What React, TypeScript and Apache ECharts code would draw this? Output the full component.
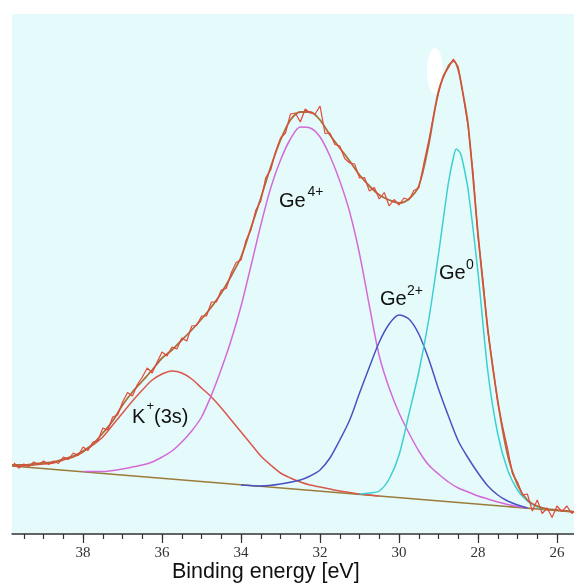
import React, { useEffect, useRef } from "react";
import * as echarts from "echarts";

// Binding energy [eV] vs intensity (arb. units)
const baseline = [[39.8, 68], [25.57, 22]];

const kPeak = [[39.8,68],[39.5,68],[39.25,69],[39.0,70],[38.75,71],[38.5,74],[38.25,77],[38.0,82],[37.75,89],[37.5,97],[37.25,109],[37.0,121],[36.75,133],[36.5,144],[36.25,154],[36.0,160],[35.75,163],[35.5,161],[35.25,155],[35.0,146],[34.75,137],[34.5,126],[34.25,114],[34.0,102],[33.75,90],[33.5,78],[33.25,69],[33.0,61],[32.75,56],[32.5,52],[32.25,49],[32.0,47],[31.75,45],[31.5,43],[31.25,41.5],[31.0,40],[30.75,39],[30.5,38]];

const ge4Peak = [[38.0,62.5],[37.5,62.5],[37.0,65],[36.75,67],[36.5,69],[36.25,72],[36.0,77],[35.75,83],[35.5,92],[35.25,103],[35.0,117],[34.75,139],[34.5,165],[34.25,194],[34.0,228],[33.75,268],[33.5,309],[33.25,346],[33.0,374],[32.75,395],[32.5,407],[32.25,406],[32.0,397],[31.75,378],[31.5,353],[31.25,322],[31.0,280],[30.75,228],[30.5,178],[30.25,146],[30.0,121],[29.75,101],[29.5,83],[29.25,69],[29.0,60],[28.75,52],[28.5,46],[28.25,42],[28.0,38],[27.75,35],[27.5,32],[27.25,29.5],[27.0,27.5],[26.75,26]];

const ge2Peak = [[34.0,49],[33.5,48],[33.0,50],[32.5,54],[32.25,58],[32.0,64],[31.75,76],[31.5,94],[31.25,114],[31.0,141],[30.75,167],[30.5,192],[30.25,210],[30.0,219],[29.75,215],[29.5,200],[29.25,175],[29.0,145],[28.75,118],[28.5,93],[28.25,76],[28.0,61],[27.75,48],[27.5,39],[27.25,33],[27.0,29],[26.75,26]];

const ge0Peak = [[31.0,40],[30.75,41],[30.5,43],[30.25,55],[30.0,79],[29.75,120],[29.5,162],[29.25,214],[29.0,280],[28.75,351],[28.62,377],[28.55,385],[28.45,381],[28.38,371],[28.25,344],[28.0,261],[27.75,162],[27.5,100],[27.25,64],[27.0,44],[26.75,33],[26.5,27],[26.25,24.5]];

const envelope = [[39.8,69],[39.5,69],[39.25,70],[39.0,71],[38.75,72],[38.5,75],[38.25,78],[38.0,83],[37.75,90],[37.5,101],[37.25,113],[37.0,129],[36.75,142],[36.5,153],[36.25,164],[36.0,176],[35.75,184],[35.5,194],[35.25,204],[35.0,215],[34.75,227],[34.5,241],[34.25,258],[34.0,277],[33.75,306],[33.5,336],[33.25,367],[33.0,394],[32.75,414],[32.5,422],[32.25,422],[32.0,414],[31.75,399],[31.5,386],[31.25,373],[31.0,359],[30.75,348],[30.5,339],[30.25,334],[30.0,331],[29.75,335],[29.5,348],[29.25,389],[29.0,443],[28.75,468],[28.62,473],[28.5,464],[28.38,440],[28.25,409],[28.0,300],[27.75,204],[27.5,133],[27.25,79],[27.0,49],[26.75,34],[26.5,28],[26.25,25],[26.0,24],[25.75,23],[25.57,22]];

const spectrum = [[39.75,71],[39.625,66],[39.5,70],[39.375,67.5],[39.25,72],[39.125,69.5],[39.0,73],[38.875,69.5],[38.75,73],[38.625,70.5],[38.5,77],[38.375,74.5],[38.25,81],[38.125,78.5],[38.0,87],[37.875,83.5],[37.75,92],[37.625,93.5],[37.5,106],[37.375,104],[37.25,117],[37.125,119],[37.0,132],[36.875,141.5],[36.75,138],[36.625,149.5],[36.5,157],[36.375,166],[36.25,161],[36.125,172],[36.0,182],[35.875,178],[35.75,187],[35.625,185],[35.5,196],[35.375,193],[35.25,208],[35.125,208.5],[35.0,218],[34.875,218],[34.75,232],[34.625,232],[34.5,244],[34.375,245.5],[34.25,261],[34.125,271.5],[34.0,274],[33.875,293.5],[33.75,304],[33.625,324],[33.5,333],[33.375,356.5],[33.25,364],[33.125,382.5],[33.0,396],[32.875,401],[32.75,420],[32.625,421],[32.5,412],[32.375,425],[32.25,421],[32.125,420],[32.0,428],[31.875,400.5],[31.75,401],[31.625,389.5],[31.5,388],[31.375,375.5],[31.25,371],[31.125,370],[31.0,356],[30.875,356.5],[30.75,343],[30.625,346.5],[30.5,335],[30.375,341.5],[30.25,328],[30.125,334.5],[30.0,329],[29.875,336],[29.75,334],[29.625,343.5],[29.5,346],[29.375,370],[29.25,393],[29.125,419],[29.0,441],[28.875,459],[28.75,466],[28.625,475],[28.5,467],[28.375,439],[28.25,407],[28.125,361],[28.0,297],[27.875,254],[27.75,202],[27.625,168],[27.5,131],[27.375,107],[27.25,85],[27.125,60],[27.0,52],[26.875,39],[26.75,40],[26.625,23],[26.5,34],[26.375,20.5],[26.25,26],[26.125,16.5],[26.0,28],[25.875,22.5],[25.75,28],[25.625,20.5],[25.57,23]];

const majorTicks = [26, 28, 30, 32, 34, 36, 38];
const minorTicks = [26, 26.5, 27, 27.5, 28, 28.5, 29, 29.5, 30, 30.5, 31, 31.5, 32, 32.5, 33, 33.5, 34, 34.5, 35, 35.5, 36, 36.5, 37, 37.5, 38, 38.5, 39, 39.5];

const SANS = "'Liberation Sans', Arial, Helvetica, sans-serif";

export default function App() {
  const ref = useRef<HTMLDivElement>(null);
  useEffect(() => {
    const chart = echarts.init(ref.current!, null, { renderer: "svg" });
    const line = (name: string, data: number[][], color: string, width: number, z: number, smooth: any) => ({
      type: "line",
      name,
      data,
      showSymbol: false,
      smooth,
      silent: true,
      z,
      lineStyle: { color, width },
      itemStyle: { color },
    });
    const txt = (text: string, x: number, y: number, size: number) => ({
      type: "text",
      x,
      y,
      z: 10,
      style: { text, fontSize: size, fontFamily: SANS, fill: "#111", align: "left", verticalAlign: "middle" },
    });
    chart.setOption({
      animation: false,
      grid: { left: 12, right: 0, top: 14, bottom: 49, show: true, backgroundColor: "#e5fbfb", borderWidth: 0 },
      xAxis: [
        {
          type: "value",
          inverse: true,
          min: 25.57,
          max: 39.8,
          position: "bottom",
          axisLine: { show: true, onZero: false, lineStyle: { color: "#333", width: 1.5 } },
          axisTick: { show: true, customValues: majorTicks, length: 9, lineStyle: { color: "#333", width: 1.2 } },
          axisLabel: { customValues: majorTicks, margin: 10, fontFamily: "'Liberation Serif', serif", fontSize: 15, color: "#333" },
          splitLine: { show: false },
        },
        {
          type: "value",
          inverse: true,
          min: 25.57,
          max: 39.8,
          position: "bottom",
          offset: 0,
          axisLine: { show: false },
          axisTick: { show: true, customValues: minorTicks, length: 5, lineStyle: { color: "#333", width: 1.2 } },
          axisLabel: { show: false },
          splitLine: { show: false },
        },
      ],
      yAxis: { type: "value", min: 0, max: 520, show: false },
      series: [
        line("Baseline", baseline, "#9a7b3a", 1.6, 3, false),
        line("K+(3s)", kPeak, "#d9574d", 1.5, 4, 0.3),
        line("Ge4+", ge4Peak, "#d46ad8", 1.5, 4, 0.3),
        line("Ge2+", ge2Peak, "#4a52c2", 1.5, 4, 0.3),
        line("Ge0", ge0Peak, "#3ccfd2", 1.5, 4, 0.3),
        line("Envelope", envelope, "#a8703c", 1.8, 5, 0.3),
        line("Spectrum", spectrum, "#e4483a", 1.2, 6, false),
      ],
      graphic: [
        { type: "ellipse", z: 1, shape: { cx: 435, cy: 71, rx: 8, ry: 23 }, style: { fill: "#ffffff" } },
        txt("K", 132, 416, 20),
        txt("+", 146.5, 405, 13),
        txt("(3s)", 154, 416, 20),
        txt("Ge", 279, 200, 20),
        txt("4+", 307.5, 191, 14),
        txt("Ge", 380, 298, 20),
        txt("2+", 407, 290, 14),
        txt("Ge", 439, 272, 20),
        txt("0", 466, 264, 14),
        txt("Binding energy [eV]", 172, 570.5, 21.5),
      ],
    });
    return () => chart.dispose();
  }, []);
  return <div ref={ref} style={{ position: "fixed", left: 0, top: 0, width: 574, height: 583 }} />;
}
